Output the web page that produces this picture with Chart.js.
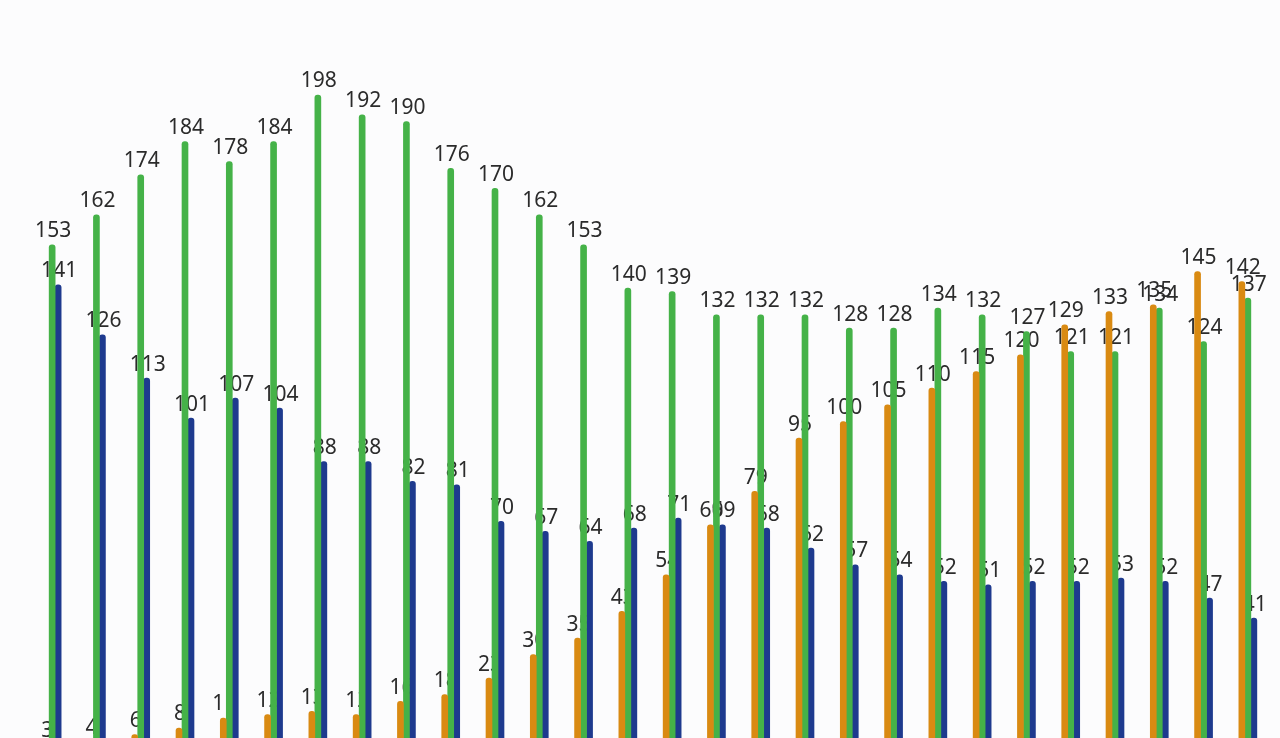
<!DOCTYPE html>
<html>
<head>
<meta charset="utf-8">
<script src="https://cdn.jsdelivr.net/npm/chart.js@4/dist/chart.umd.min.js"></script>
<style>
  html, body { margin: 0; padding: 0; background: #fcfcfd; }
  #wrap { width: 1280px; height: 738px; }
</style>
</head>
<body>
<div id="wrap"><canvas id="chart"></canvas></div>
<script>
// Values, one group per period
const labels = Array.from({ length: 28 }, (_, i) => String(i + 1));
const orangeValues = [3, 4, 6, 8, 11, 12, 13, 12, 16, 18, 23, 30, 35, 43, 54, 69, 79, 95, 100, 105, 110, 115, 120, 129, 133, 135, 145, 142];
const greenValues = [153, 162, 174, 184, 178, 184, 198, 192, 190, 176, 170, 162, 153, 140, 139, 132, 132, 132, 128, 128, 134, 132, 127, 121, 121, 134, 124, 137];
const blueValues = [141, 126, 113, 101, 107, 104, 88, 88, 82, 81, 70, 67, 64, 68, 71, 69, 68, 62, 57, 54, 52, 51, 52, 52, 53, 52, 47, 41];

// Value labels drawn under the bars, like the reference
const valueLabels = {
    id: 'valueLabels',
    beforeDatasetsDraw(chart) {
        const ctx = chart.ctx;
        ctx.save();
        ctx.font = '21px "Noto Sans", sans-serif';
        ctx.fillStyle = '#2b2b2b';
        ctx.textAlign = 'center';
        ctx.textBaseline = 'bottom';
        chart.data.datasets.forEach((ds, di) => {
            chart.getDatasetMeta(di).data.forEach((bar, i) => {
                ctx.fillText(ds.data[i], bar.x + 1, bar.y - 3);
            });
        });
        ctx.restore();
    }
};

const radius = { topLeft: 3, topRight: 3 };

new Chart(document.getElementById('chart'), {
    type: 'bar',
    data: {
        labels: labels,
        datasets: [
            { data: orangeValues, backgroundColor: '#d98a12', borderRadius: radius, borderSkipped: 'bottom' },
            { data: greenValues, backgroundColor: '#45b248', borderRadius: radius, borderSkipped: 'bottom' },
            { data: blueValues, backgroundColor: '#1e3a8e', borderRadius: radius, borderSkipped: 'bottom' }
        ]
    },
    options: {
        responsive: true,
        maintainAspectRatio: false,
        animation: false,
        layout: { padding: { left: 30, right: 10, top: 0, bottom: 0 } },
        datasets: { bar: { barThickness: 6, categoryPercentage: 0.52, barPercentage: 1 } },
        plugins: { legend: { display: false }, tooltip: { enabled: false } },
        scales: {
            x: { display: false },
            y: { display: false, min: 5, max: 226.5 }
        }
    },
    plugins: [valueLabels]
});
</script>
</body>
</html>
